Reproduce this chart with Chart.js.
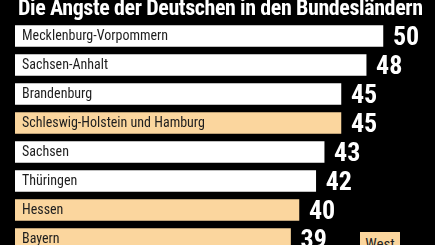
<!DOCTYPE html>
<html>
<head>
<meta charset="utf-8">
<script src="https://cdn.jsdelivr.net/npm/chart.js@4"></script>
<style>
  html, body { margin: 0; padding: 0; background: #000; overflow: hidden; }
  body { width: 435px; height: 245px; position: relative; }
  #title {
    position: absolute; left: 18px; top: -3px;
    font-family: Roboto, sans-serif; font-weight: bold; font-stretch: condensed;
    font-size: 22px; line-height: 22px; letter-spacing: -0.4px;
    color: #fff; white-space: nowrap;
  }
  #chartWrap { position: absolute; left: 0; top: 0; width: 435px; height: 256px; }
  #westBox {
    position: absolute; left: 360px; top: 232px; width: 40px; height: 20px;
    background: #fbd69e; color: #222; text-align: center;
    font-family: Roboto, sans-serif; font-stretch: condensed; font-size: 15px;
    line-height: 24px;
  }
</style>
</head>
<body>
<div id="chartWrap"><canvas id="statesChart" width="435" height="256"></canvas></div>
<div id="title">Die Ängste der Deutschen in den Bundesländern</div>
<div id="westBox">West</div>
<script>
// ================= DATA =================
const states = [
  "Mecklenburg-Vorpommern",
  "Sachsen-Anhalt",
  "Brandenburg",
  "Schleswig-Holstein und Hamburg",
  "Sachsen",
  "Thüringen",
  "Hessen",
  "Bayern"
];
const fearIndex = [50, 48, 45, 45, 43, 42, 40, 39];
const region = ["Ost", "Ost", "Ost", "West", "Ost", "Ost", "West", "West"];

// ================= COLORS =================
const REGION_COLORS = {
  Ost: "#ffffff",
  West: "#fbd69e"
};

// ================= VALUE LABELS =================
const valueLabels = {
  id: "valueLabels",
  afterDatasetsDraw(chart) {
    const ctx = chart.ctx;
    const meta = chart.getDatasetMeta(0);
    ctx.save();
    ctx.fillStyle = "#fff";
    ctx.font = "bold condensed 26px Roboto, sans-serif";
    ctx.textAlign = "left";
    ctx.textBaseline = "middle";
    meta.data.forEach((bar, i) => {
      ctx.fillText(fearIndex[i], bar.x + 10, bar.y + 2);
    });
    ctx.restore();
  }
};

// ================= CHART =================
new Chart(document.getElementById("statesChart"), {
  type: "bar",
  data: {
    labels: states,
    datasets: [{
      data: fearIndex,
      backgroundColor: region.map(r => REGION_COLORS[r]),
      borderWidth: 0,
      barThickness: 21
    }]
  },
  options: {
    indexAxis: "y",
    responsive: false,
    animation: false,
    layout: { padding: { top: 21.5, bottom: 2.5, left: 15, right: 0 } },
    plugins: {
      legend: { display: false },
      tooltip: { enabled: false }
    },
    scales: {
      x: {
        display: false,
        min: 6.2,
        max: 56.2
      },
      y: {
        grid: { display: false, drawTicks: false },
        border: { display: false },
        ticks: {
          z: 1,
          mirror: true,
          padding: 7,
          color: "#1e1e1e",
          font: { family: "Roboto, sans-serif", weight: "normal condensed", size: 14 }
        },
        afterFit(scale) {
          // labels sit inside the bars, so the axis takes no room
          scale.width = 0;
          scale.paddingTop = 0;
          scale.paddingBottom = 0;
        }
      }
    }
  },
  plugins: [valueLabels]
});
</script>
</body>
</html>
